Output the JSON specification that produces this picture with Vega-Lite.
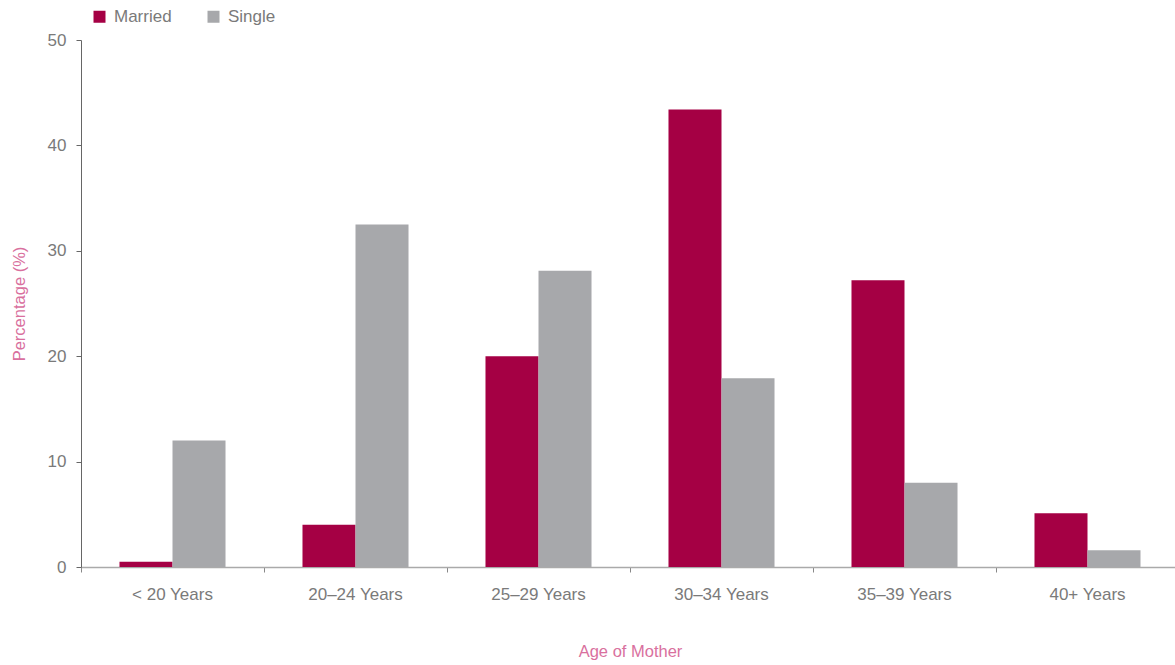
{
  "$schema": "https://vega.github.io/schema/vega-lite/v6.json",
  "autosize": "none",
  "width": 1098,
  "height": 527,
  "padding": {"left": 81, "top": 40, "right": 0, "bottom": 98},
  "background": "white",
  "config": {
    "font": "Liberation Sans",
    "view": {"stroke": null},
    "axis": {"labelFont": "Liberation Sans", "titleFont": "Liberation Sans"},
    "legend": {"labelFont": "Liberation Sans"}
  },
  "data": {
    "values": [
      {"age": "< 20 Years", "status": "Married", "pct": 0.5},
      {"age": "< 20 Years", "status": "Single", "pct": 12.0},
      {"age": "20–24 Years", "status": "Married", "pct": 4.0},
      {"age": "20–24 Years", "status": "Single", "pct": 32.5},
      {"age": "25–29 Years", "status": "Married", "pct": 20.0},
      {"age": "25–29 Years", "status": "Single", "pct": 28.1},
      {"age": "30–34 Years", "status": "Married", "pct": 43.4},
      {"age": "30–34 Years", "status": "Single", "pct": 17.9},
      {"age": "35–39 Years", "status": "Married", "pct": 27.2},
      {"age": "35–39 Years", "status": "Single", "pct": 8.0},
      {"age": "40+ Years", "status": "Married", "pct": 5.1},
      {"age": "40+ Years", "status": "Single", "pct": 1.6}
    ]
  },
  "mark": {"type": "bar"},
  "encoding": {
    "x": {
      "field": "age",
      "type": "nominal",
      "sort": null,
      "scale": {"paddingInner": 0, "paddingOuter": 0},
      "axis": {
        "title": "Age of Mother",
        "titleColor": "#D9709E",
        "titleFontSize": 16.5,
        "titleFontWeight": "normal",
        "titlePadding": 41,
        "labelAngle": 0,
        "labelColor": "#7a7a7a",
        "labelFontSize": 17,
        "labelPadding": 14,
        "bandPosition": 0,
        "tickColor": "#888888",
        "tickSize": 5,
        "domainColor": "#aaaaaa",
        "domainWidth": 1.5
      }
    },
    "xOffset": {
      "field": "status",
      "type": "nominal",
      "scale": {"paddingInner": 0, "paddingOuter": 0.726}
    },
    "y": {
      "field": "pct",
      "type": "quantitative",
      "scale": {"domain": [0, 50], "nice": false},
      "axis": {
        "title": "Percentage (%)",
        "titleColor": "#D9709E",
        "titleFontSize": 16.5,
        "titleFontWeight": "normal",
        "titlePadding": 20,
        "values": [0, 10, 20, 30, 40, 50],
        "grid": false,
        "labelColor": "#7a7a7a",
        "labelFontSize": 17,
        "labelPadding": 10,
        "tickColor": "#666666",
        "tickSize": 5,
        "domainColor": "#666666"
      }
    },
    "color": {
      "field": "status",
      "type": "nominal",
      "scale": {"domain": ["Married", "Single"], "range": ["#A50044", "#A7A8AB"]},
      "legend": {
        "title": null,
        "orient": "none",
        "direction": "horizontal",
        "legendX": 10,
        "legendY": -32,
        "symbolType": "square",
        "symbolSize": 144,
        "symbolStrokeWidth": 0,
        "labelFontSize": 17,
        "labelColor": "#7a7a7a",
        "labelOffset": 6,
        "columnPadding": 33
      }
    }
  }
}
